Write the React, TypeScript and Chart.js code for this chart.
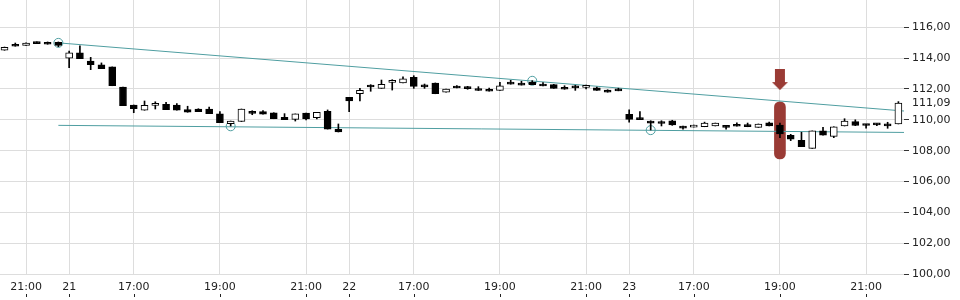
import React, { useEffect, useRef } from "react";
import { Chart, registerables } from "chart.js";

Chart.register(...registerables);

// Candle OHLC values (15-minute candles, index = slot)
const opens = [
  114.51, 114.87, 114.83, 115.05, 114.98, 115.03, 113.99, 114.35, 113.81, 113.56,
  113.43, 112.13, 110.96, 110.62, 110.94, 111.0, 110.96, 110.66, 110.7, 110.7,
  110.39, 109.75, 109.89, 110.53, 110.53, 110.46, 110.16, 110.03, 110.44, 110.14,
  110.55, 109.39, 111.46, 111.69, 112.14, 112.04, 112.43, 112.39, 112.76, 112.25,
  112.39, 111.8, 112.17, 112.11, 112.0, 111.95, 111.91, 112.43, 112.37, 112.45,
  112.32, 112.28, 112.08, 112.09, 112.1, 112.08, 111.93, 111.89, 110.36, 110.1,
  109.92, 109.78, 109.94, 109.58, 109.53, 109.55, 109.6, 109.53, 109.68, 109.66,
  109.51, 109.81, 109.66, 109.0, 108.67, 108.15, 109.28, 108.93, 109.6, 109.88,
  109.64, 109.68, 109.62, 109.73,
];
const highs = [
  114.72, 114.98, 115.0, 115.05, 115.05, 115.05, 114.46, 114.79, 114.05, 113.69,
  113.43, 112.13, 110.96, 111.22, 111.17, 111.14, 111.05, 110.88, 110.72, 110.83,
  110.54, 109.92, 110.7, 110.59, 110.6, 110.46, 110.4, 110.38, 110.44, 110.49,
  110.64, 109.73, 111.46, 112.04, 112.28, 112.58, 112.6, 112.78, 112.86, 112.32,
  112.39, 112.0, 112.22, 112.17, 112.15, 112.06, 112.43, 112.56, 112.5, 112.54,
  112.41, 112.3, 112.21, 112.24, 112.26, 112.12, 111.95, 112.05, 110.64, 110.53,
  109.94, 109.94, 109.97, 109.6, 109.66, 109.85, 109.79, 109.64, 109.81, 109.79,
  109.73, 109.86, 109.79, 109.06, 109.19, 109.28, 109.52, 109.55, 110.07, 110.0,
  109.71, 109.76, 109.84, 111.18,
];
const lows = [
  114.51, 114.77, 114.83, 114.94, 114.9, 114.74, 113.38, 113.96, 113.25, 113.32,
  112.21, 110.92, 110.46, 110.62, 110.7, 110.66, 110.62, 110.49, 110.53, 110.4,
  109.82, 109.6, 109.89, 110.33, 110.36, 110.07, 110.01, 109.92, 109.99, 110.05,
  109.4, 109.21, 110.53, 111.22, 111.85, 112.04, 111.93, 112.39, 112.04, 112.04,
  111.69, 111.8, 112.06, 111.98, 111.9, 111.85, 111.91, 112.31, 112.25, 112.28,
  112.19, 112.04, 111.98, 111.91, 112.0, 111.91, 111.79, 111.88, 109.84, 110.01,
  109.34, 109.6, 109.64, 109.4, 109.53, 109.55, 109.6, 109.39, 109.58, 109.55,
  109.51, 109.6, 108.84, 108.65, 108.26, 108.15, 109.0, 108.84, 109.6, 109.62,
  109.45, 109.62, 109.45, 109.73,
];
const closes = [
  114.7, 114.77, 114.98, 114.94, 114.9, 114.83, 114.35, 113.96, 113.57, 113.32,
  112.21, 110.92, 110.72, 110.94, 111.07, 110.66, 110.62, 110.49, 110.53, 110.4,
  109.82, 109.91, 110.69, 110.42, 110.36, 110.07, 110.01, 110.38, 110.05, 110.49,
  109.4, 109.21, 111.22, 111.91, 112.13, 112.3, 112.44, 112.65, 112.17, 112.14,
  111.69, 112.0, 112.06, 112.02, 111.9, 111.85, 112.21, 112.31, 112.25, 112.28,
  112.19, 112.04, 111.98, 112.07, 112.12, 111.91, 111.79, 111.88, 110.03, 110.01,
  109.78, 109.76, 109.67, 109.46, 109.66, 109.79, 109.79, 109.51, 109.58, 109.56,
  109.73, 109.6, 109.08, 108.74, 108.26, 109.28, 109.0, 109.55, 109.92, 109.63,
  109.63, 109.67, 109.61, 111.09,
];

// X tick positions (slot index) and labels
const xTickIndex = [2, 6, 12, 20, 28, 32, 38, 46, 54, 58, 64, 72, 80];
const xTickLabels = ["21:00", "21", "17:00", "19:00", "21:00", "22", "17:00", "19:00", "21:00", "23", "17:00", "19:00", "21:00"];

// Y ticks
const yTicks = [100, 102, 104, 106, 108, 110, 112, 114, 116];
const lastPrice = 111.09;

// Trend lines (index, value)
const upperTrend = [{ x: 5, y: 114.99 }, { x: 83.52, y: 110.57 }];
const lowerTrend = [{ x: 5, y: 109.64 }, { x: 83.52, y: 109.18 }];
const trendAnchors = [{ x: 5, y: 114.99 }, { x: 49, y: 112.53 }, { x: 21, y: 109.58 }, { x: 60, y: 109.33 }];

// Signal marker
const signalIndex = 72;
const signalRange = [107.46, 111.17];
const signalArrowValue = 112.61;

const TEAL = "#4f9ea1";
const RED = "#9a3b35";

export default function App() {
  const ref = useRef<HTMLCanvasElement | null>(null);

  useEffect(() => {
    document.body.style.margin = "0";
    const canvas = ref.current;
    if (!canvas) return;

    const arrow = document.createElement("canvas");
    arrow.width = 16;
    arrow.height = 21;
    const actx = arrow.getContext("2d")!;
    actx.fillStyle = RED;
    actx.fillRect(3, 0, 10, 13);
    actx.beginPath();
    actx.moveTo(0, 13);
    actx.lineTo(16, 13);
    actx.lineTo(8, 21);
    actx.closePath();
    actx.fill();

    const bodyData = opens.map((o, i) => ({ x: i, y: [o, closes[i]] }));
    const wickData = lows.map((l, i) => ({ x: i, y: [l, highs[i]] }));
    const bodyColors = opens.map((o, i) => (closes[i] >= o ? "#ffffff" : "#000000"));

    const tickMarks = {
      id: "tickMarks",
      afterDraw(chart: any) {
        const xs = chart.scales.x;
        const ctx = chart.ctx;
        ctx.save();
        ctx.strokeStyle = "#222";
        ctx.lineWidth = 1;
        xs.ticks.forEach((t: any) => {
          const px = Math.round(xs.getPixelForValue(t.value)) + 0.5;
          ctx.beginPath();
          ctx.moveTo(px, xs.bottom - 6);
          ctx.lineTo(px, xs.bottom - 3);
          ctx.stroke();
        });
        ctx.restore();
      },
    };

    Chart.defaults.font.family = "DejaVu Sans";
    Chart.defaults.font.size = 11;

    const chart = new Chart(canvas, {
      type: "bar",
      data: {
        datasets: [
          { type: "bar", data: bodyData, backgroundColor: bodyColors, borderColor: "#000", borderWidth: 1, borderSkipped: false, barThickness: 7, minBarLength: 2, grouped: false },
          { type: "bar", data: wickData, backgroundColor: "#000", borderWidth: 0, barThickness: 1, grouped: false },
          { type: "line", data: upperTrend, borderColor: TEAL, borderWidth: 1, pointRadius: 0 },
          { type: "line", data: lowerTrend, borderColor: TEAL, borderWidth: 1, pointRadius: 0 },
          { type: "line", data: trendAnchors, showLine: false, pointRadius: 4.5, pointBorderColor: TEAL, pointBackgroundColor: "rgba(0,0,0,0)", pointBorderWidth: 1 },
          { type: "bar", data: [{ x: signalIndex, y: signalRange }], backgroundColor: RED, borderWidth: 0, borderRadius: 6, borderSkipped: false, barThickness: 11, grouped: false },
          { type: "line", data: [{ x: signalIndex, y: signalArrowValue }], showLine: false, pointStyle: arrow, pointRadius: 5 },
        ],
      },
      options: {
        animation: false,
        responsive: false,
        layout: { padding: 0, autoPadding: false },
        plugins: { legend: { display: false }, tooltip: { enabled: false } },
        scales: {
          x: {
            type: "linear", min: -0.42, max: 83.52, offset: false,
            grid: { offset: false, color: "#dddddd", drawTicks: false },
            border: { display: false },
            afterBuildTicks: (s: any) => { s.ticks = xTickIndex.map((v) => ({ value: v })); },
            afterFit: (s: any) => { s.height = 26; s.paddingLeft = 0; s.paddingRight = 0; },
            ticks: { autoSkip: false, maxRotation: 0, padding: 7, color: "#222", callback: (v: any) => { const k = xTickIndex.indexOf(Number(v)); return k >= 0 ? xTickLabels[k] : ""; } },
          },
          y: {
            type: "linear", position: "right", min: 100, max: 117.77, beginAtZero: false,
            grid: {
              color: (c: any) => (c.tick && c.tick.value === lastPrice ? "rgba(0,0,0,0)" : "#dddddd"),
              tickColor: (c: any) => (c.tick && c.tick.value === lastPrice ? "rgba(0,0,0,0)" : "#333333"),
              tickLength: 5,
            },
            border: { display: false },
            afterBuildTicks: (s: any) => { s.ticks = [...yTicks, lastPrice].sort((a, b) => a - b).map((v) => ({ value: v })); },
            afterFit: (s: any) => { s.width = 56; s.paddingTop = 0; s.paddingBottom = 0; },
            ticks: { autoSkip: false, padding: 3, color: "#222", callback: (v: any) => Number(v).toFixed(2).replace(".", ",") },
          },
        },
      },
      plugins: [tickMarks],
    } as any);

    return () => chart.destroy();
  }, []);

  return (
    <div style={{ width: 960, height: 300 }}>
      <canvas ref={ref} width={960} height={300} style={{ display: "block" }} />
    </div>
  );
}
